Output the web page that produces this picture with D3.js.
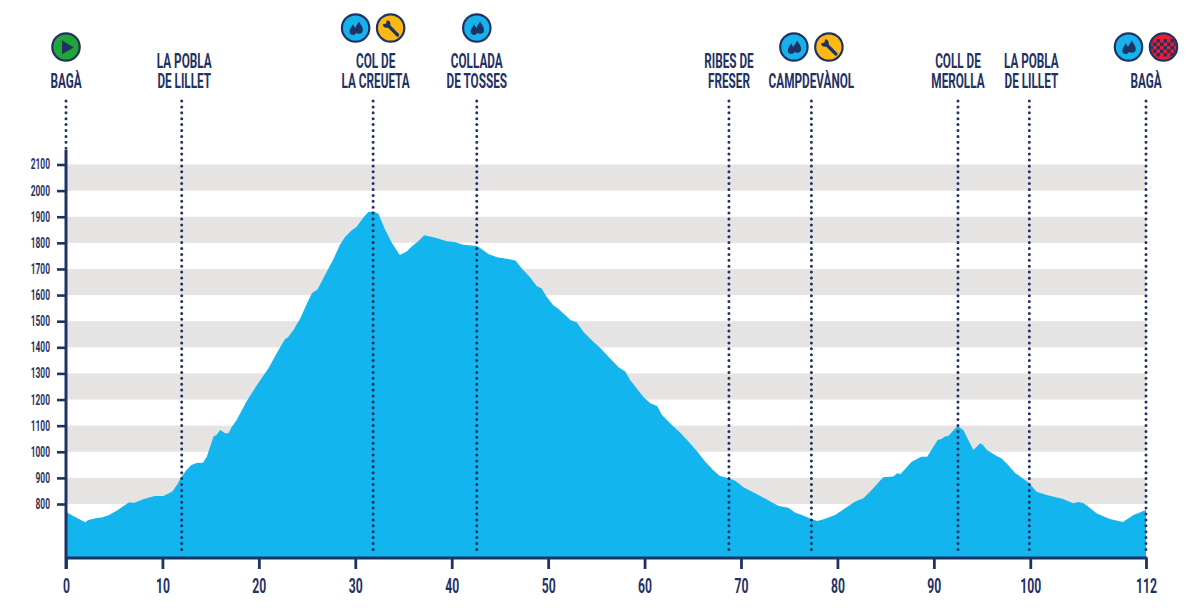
<!DOCTYPE html>
<html>
<head>
<meta charset="utf-8">
<script src="https://cdn.jsdelivr.net/npm/d3@7"></script>
<style>
  body { margin: 0; background: #fff; }
  svg { display: block; }
  text { font-family: "Roboto", sans-serif; fill: #1f3264; }
</style>
</head>
<body>
<script>

// profile
var distanceKm = [0, 0.6, 1.3, 2, 2.3, 3.2, 3.7, 4.4, 5.25, 6.5, 7.1, 8, 9.2, 10.1, 11, 11.5, 12, 12.5, 13, 13.55, 14.2, 14.6, 15.3, 15.6, 16, 16.5, 16.85, 17.2, 17.7, 18.7, 19.8, 21, 21.85, 22.7, 23.05, 23.6, 24.3, 25, 25.5, 26.1, 26.7, 27.7, 28.4, 28.9, 29.6, 30.15, 30.8, 31.35, 31.9, 32.4, 33.1, 33.8, 34.6, 35.3, 35.85, 36.5, 37.15, 38.4, 39.5, 40.3, 41.2, 42.6, 43.1, 43.8, 44.7, 45.7, 46.6, 47.25, 48.1, 48.8, 49.3, 49.85, 50.5, 51.2, 52.3, 52.95, 53.65, 54.5, 55.4, 56.4, 57.3, 58, 58.5, 59.9, 60.6, 61.3, 61.8, 62.8, 63.7, 64.55, 65.4, 66.3, 67.1, 67.8, 68.8, 69.4, 70.25, 72, 73, 73.9, 74.9, 75.6, 76.5, 77.3, 77.9, 78.5, 79.75, 80.8, 81.8, 82.7, 83.55, 84.75, 85.8, 86.2, 86.55, 87.7, 88.7, 89.3, 90.4, 90.8, 91.15, 91.5, 92.45, 93.05, 94.1, 94.8, 95.1, 95.5, 96.5, 97, 97.7, 98.4, 99.3, 99.9, 100.65, 101.7, 103.4, 104.45, 105, 105.55, 106.9, 108.25, 109.6, 110.7, 112];
var elevationM = [770, 757, 744, 730, 739, 746, 748, 757, 774, 806, 805, 818, 831, 831, 847, 873, 905, 930, 949, 957, 958, 981, 1058, 1064, 1083, 1071, 1071, 1096, 1122, 1192, 1256, 1320, 1377, 1431, 1439, 1467, 1511, 1569, 1607, 1622, 1665, 1735, 1792, 1820, 1847, 1862, 1895, 1918, 1920, 1911, 1850, 1799, 1753, 1766, 1786, 1805, 1829, 1819, 1806, 1803, 1793, 1788, 1776, 1757, 1745, 1739, 1732, 1703, 1669, 1635, 1626, 1594, 1562, 1543, 1505, 1496, 1460, 1428, 1397, 1358, 1324, 1307, 1275, 1209, 1186, 1175, 1141, 1103, 1073, 1039, 1004, 962, 930, 907, 898, 889, 864, 831, 811, 792, 786, 767, 755, 743, 735, 741, 758, 784, 809, 822, 854, 902, 905, 918, 915, 962, 981, 981, 1045, 1049, 1058, 1060, 1099, 1083, 1007, 1033, 1026, 1007, 984, 975, 949, 920, 896, 879, 847, 834, 819, 803, 808, 803, 764, 743, 731, 758, 777];

var yTicks = [800, 900, 1000, 1100, 1200, 1300, 1400, 1500, 1600, 1700, 1800, 1900, 2000, 2100];
var xTicks = [0, 10, 20, 30, 40, 50, 60, 70, 80, 90, 100, 112];

var stopKm = [0, 12, 31.85, 42.6, 68.75, 77.3, 92.5, 99.9, 112];
var stopNames = [["BAGÀ"], ["LA POBLA", "DE LILLET"], ["COL DE", "LA CREUETA"], ["COLLADA", "DE TOSSES"], ["RIBES DE", "FRESER"], ["CAMPDEVÀNOL"], ["COLL DE", "MEROLLA"], ["LA POBLA", "DE LILLET"], ["BAGÀ"]];
var stopIcons = [["start"], [], ["water", "tools"], ["water"], [], ["water", "tools"], [], [], ["water", "finish"]];

var w = 1200;
var h = 608;
var navy = "#1f3264";
var sky = "#12b5ee";

var xScale = d3.scaleLinear().domain([0, 112]).range([66, 1146]);
var yScale = d3.scaleLinear().domain([800, 2100]).range([504, 164.5]);
var floorM = yScale.invert(558);

var svg = d3.select("body").append("svg").attr("width", w).attr("height", h);

// grey bands, every other hundred metres
var bands = yTicks.filter(function(d, i) { return i % 2 == 0; });
svg.selectAll("rect.band")
    .data(bands)
    .enter()
    .append("rect")
    .attr("class", "band")
    .attr("x", xScale(0))
    .attr("width", xScale(112) - xScale(0))
    .attr("y", function(d) { return yScale(d + 100); })
    .attr("height", function(d) { return yScale(d) - yScale(d + 100); })
    .attr("fill", "#e5e4e3");

var area = d3.area()
    .x(function(d) { return xScale(d[0]); })
    .y0(yScale(floorM))
    .y1(function(d) { return yScale(d[1]); });

svg.append("path")
    .datum(d3.zip(distanceKm, elevationM))
    .attr("d", area)
    .attr("fill", sky);

// dotted markers
svg.selectAll("line.stop")
    .data(stopKm)
    .enter()
    .append("line")
    .attr("class", "stop")
    .attr("x1", function(d) { return xScale(d); })
    .attr("x2", function(d) { return xScale(d); })
    .attr("y1", 101)
    .attr("y2", function(d) { return d == 0 ? 150 : 555; })
    .attr("stroke", navy)
    .attr("stroke-width", 3)
    .attr("stroke-linecap", "round")
    .attr("stroke-dasharray", "0 5.9");

// axes
var yAxis = d3.axisLeft(yScale).tickValues(yTicks).tickSize(9).tickPadding(7).tickFormat(d3.format("d"));
var xAxis = d3.axisBottom(xScale).tickValues(xTicks).tickSize(11).tickPadding(9).tickFormat(d3.format("d"));

var yG = svg.append("g").attr("transform", "translate(" + xScale(0) + ",0)").call(yAxis);
var xG = svg.append("g").attr("transform", "translate(0,558)").call(xAxis);

yG.select(".domain").remove();
xG.select(".domain").remove();
yG.selectAll("line").attr("stroke", navy).attr("stroke-width", 2.6);
xG.selectAll("line").attr("stroke", navy).attr("stroke-width", 2.8);

svg.append("line").attr("x1", xScale(0)).attr("x2", xScale(0)).attr("y1", 150).attr("y2", 569)
    .attr("stroke", navy).attr("stroke-width", 3);
svg.append("line").attr("x1", xScale(0)).attr("x2", xScale(112) + 1.4).attr("y1", 558).attr("y2", 558)
    .attr("stroke", navy).attr("stroke-width", 3);

yG.selectAll("text")
    .attr("font-size", 14)
    .attr("font-weight", "bold")
    .style("fill", navy)
    .attr("transform", function() {
        // squeeze towards the right end of the label
        var x = +d3.select(this).attr("x");
        return "translate(" + x * 0.4 + ",0) scale(0.6,1)";
    });

xG.selectAll("text")
    .attr("font-size", 21)
    .attr("font-weight", "bold")
    .style("fill", navy)
    .attr("transform", "scale(0.58,1)");

// stop names
var labelNudge = [0, 2.5, 2.5, 0, 0, 0, 0, 2, 0];

stopNames.forEach(function(lines, i) {
    lines.slice().reverse().forEach(function(line, j) {
        svg.append("text")
            .attr("text-anchor", "middle")
            .attr("font-size", 21)
            .attr("font-weight", "bold")
            .attr("transform", "translate(" + (xScale(stopKm[i]) + labelNudge[i]) + "," + (87.5 - j * 20) + ") scale(0.56,1)")
            .text(line);
    });

    var iconY = lines.length == 2 ? 28 : 47;
    var icons = stopIcons[i];
    icons.forEach(function(kind, k) {
        var dx = icons.length == 2 ? (k == 0 ? -17.5 : 17.5) : 0;
        drawIcon(kind, xScale(stopKm[i]) + dx, iconY, i);
    });
});

function drawIcon(kind, cx, cy, id) {
    var fills = { start: "#1fa637", water: "#15b2ec", tools: "#fdb913", finish: "#ee1c2e" };
    var g = svg.append("g").attr("transform", "translate(" + cx + "," + cy + ")");

    g.append("circle").attr("r", 13.7).attr("fill", fills[kind]).attr("stroke", navy).attr("stroke-width", 2.2);

    if (kind == "start") {
        g.append("path").attr("d", "M-4,-6.7 L7.7,0.4 L-4,7.3 Z").attr("fill", navy);
    }
    if (kind == "water") {
        var drop = "M0,-6 C1.5,-3 3.6,-1 3.6,1.6 A3.6,3.6 0 1 1 -3.6,1.6 C-3.6,-1 -1.5,-3 0,-6 Z";
        g.append("path").attr("d", drop).attr("fill", navy).attr("transform", "translate(3.3,0) scale(1.1)");
        g.append("path").attr("d", drop).attr("fill", navy).attr("transform", "translate(-2.7,2) scale(0.95)");
    }
    if (kind == "tools") {
        g.append("line").attr("x1", -2).attr("y1", -2).attr("x2", 7).attr("y2", 7)
            .attr("stroke", navy).attr("stroke-width", 3.2).attr("stroke-linecap", "round");
        g.append("circle").attr("cx", -4).attr("cy", -4).attr("r", 3.8).attr("fill", navy);
        g.append("path").attr("d", "M-4.4,-4.4 L-3.6,-9 L-9,-9 L-9,-3.6 Z").attr("fill", fills.tools);
    }
    if (kind == "finish") {
        var clipId = "flag" + id;
        g.append("clipPath").attr("id", clipId).append("circle").attr("r", 12.4);
        var cells = g.append("g").attr("clip-path", "url(#" + clipId + ")");
        d3.range(-4, 4).forEach(function(col) {
            d3.range(-2, 3).forEach(function(row) {
                if ((col + row + 10) % 2 == 0) {
                    cells.append("rect").attr("x", col * 3.5).attr("y", row * 3.5 - 1)
                        .attr("width", 3.5).attr("height", 3.5).attr("fill", navy);
                }
            });
        });
    }
}

</script>
</body>
</html>
